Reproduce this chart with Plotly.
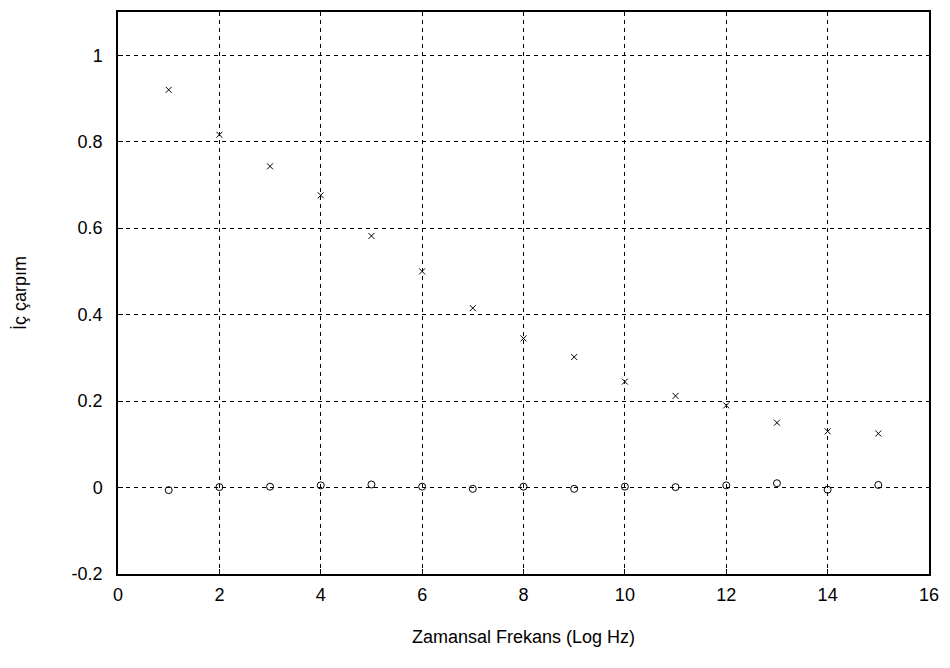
import plotly.graph_objects as go

freq = list(range(1, 16))
cross_vals = [0.92, 0.816, 0.743, 0.676, 0.582, 0.5, 0.415, 0.345, 0.302, 0.245, 0.212, 0.19, 0.15, 0.13, 0.125]
circle_vals = [-0.006, 0.001, 0.002, 0.005, 0.007, 0.002, -0.003, 0.002, -0.003, 0.002, 0.001, 0.005, 0.01, -0.005, 0.006]
x_ticks = [0, 2, 4, 6, 8, 10, 12, 14, 16]
y_ticks = [-0.2, 0, 0.2, 0.4, 0.6, 0.8, 1]
y_tick_text = ["-0.2", "0", "0.2", "0.4", "0.6", "0.8", "1"]

FONT = "Liberation Sans, Arial, sans-serif"

fig = go.Figure()
fig.add_trace(go.Scatter(x=freq, y=cross_vals, mode="markers",
                         marker=dict(symbol="x-thin", size=6, color="black",
                                     line=dict(color="black", width=1)),
                         showlegend=False))
fig.add_trace(go.Scatter(x=freq, y=circle_vals, mode="markers",
                         marker=dict(symbol="circle-open", size=7, color="black",
                                     line=dict(color="black", width=1)),
                         showlegend=False))

axis_common = dict(showline=True, linecolor="black", linewidth=1.5, mirror=True,
                   ticks="inside", ticklen=5, tickcolor="black",
                   showgrid=True, gridcolor="black", gridwidth=1, griddash="4px,4px",
                   zeroline=False,
                   tickfont=dict(family=FONT, size=18, color="black"))

fig.update_xaxes(range=[0, 16], tickvals=x_ticks, ticklabelstandoff=4,
                 ticklabeloverflow="allow", **axis_common,
                 title=dict(text="Zamansal Frekans (Log Hz)", standoff=26,
                            font=dict(family=FONT, size=18, color="black")))
fig.update_yaxes(range=[-0.2, 1.1], tickvals=y_ticks, ticktext=y_tick_text,
                 ticklabelstandoff=10, **axis_common,
                 title=dict(text="İç çarpım", standoff=40,
                            font=dict(family=FONT, size=18, color="black")))

fig.update_layout(width=934, height=652, paper_bgcolor="white", plot_bgcolor="white",
                  margin=dict(l=110, r=13, t=2, b=86))

fig.write_html("out.html")
